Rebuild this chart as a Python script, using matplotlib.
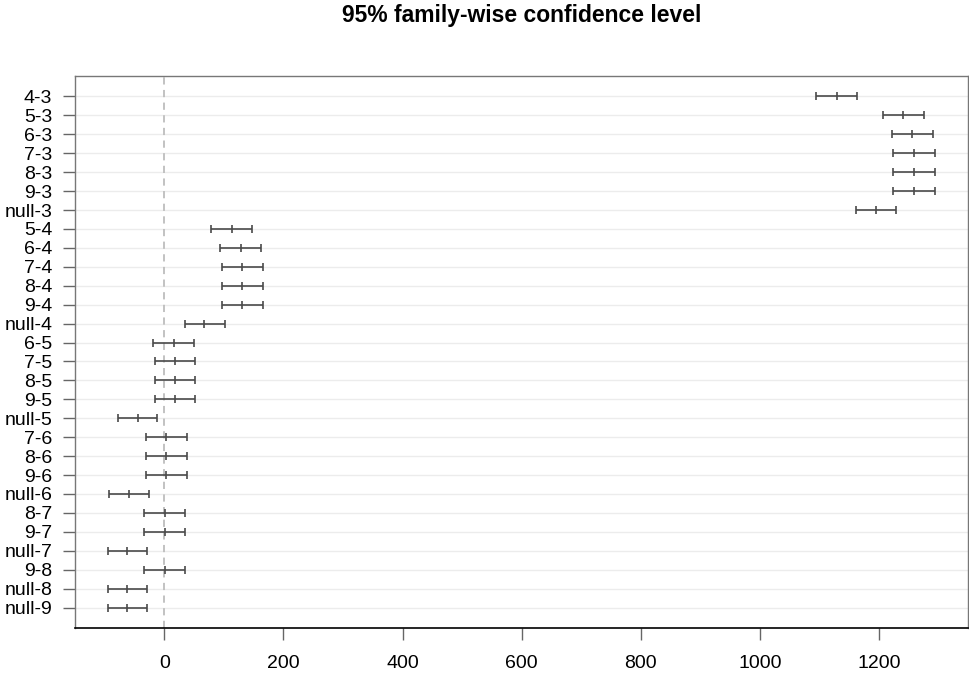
import matplotlib
matplotlib.use("Agg")
import matplotlib.pyplot as plt
import numpy as np

# Tukey HSD pairwise comparisons: difference and 95% family-wise interval
comparisons = ["4-3", "5-3", "6-3", "7-3", "8-3", "9-3", "null-3",
               "5-4", "6-4", "7-4", "8-4", "9-4", "null-4",
               "6-5", "7-5", "8-5", "9-5", "null-5",
               "7-6", "8-6", "9-6", "null-6",
               "8-7", "9-7", "null-7",
               "9-8", "null-8",
               "null-9"]
diff = [1129, 1241, 1256, 1259, 1259, 1259, 1195,
        113, 128, 131, 131, 131, 67,
        16, 18, 18, 18, -45,
        3, 3, 3, -60,
        1, 1, -62,
        1, -62,
        -62]
lwr = [1094, 1207, 1221, 1224, 1224, 1224, 1162,
       79, 94, 97, 97, 97, 34,
       -19, -16, -16, -16, -78,
       -31, -31, -31, -93,
       -34, -34, -95,
       -34, -95,
       -95]
upr = [1163, 1276, 1290, 1294, 1294, 1294, 1228,
       147, 163, 165, 165, 165, 102,
       50, 52, 52, 52, -12,
       38, 38, 38, -26,
       35, 35, -29,
       35, -29,
       -29]
xticks = [0, 200, 400, 600, 800, 1000, 1200]

plt.rcParams["font.family"] = ["Liberation Sans", "DejaVu Sans"]

n = len(comparisons)
ypos = np.arange(n, 0, -1)
diff = np.array(diff)
lwr = np.array(lwr)
upr = np.array(upr)

fig = plt.figure(figsize=(9.69, 6.75), dpi=100)
ax = fig.add_axes([0.0771, 0.0696, 0.922, 0.8178])

# light row guides and the zero reference
for y in ypos:
    ax.axhline(y, color="#ececec", linewidth=1.0, zorder=0)
ax.axvline(0, color="#bdbdbd", linewidth=1.3, linestyle=(0, (4, 3)), zorder=1)

bar_kw = dict(linestyle="none", marker="|", markersize=5.5, mew=1.2,
              color="#4a4a4a", zorder=3)
ax.hlines(ypos, lwr, upr, color="#4a4a4a", linewidth=1.2, zorder=3)
ax.plot(lwr, ypos, **bar_kw)
ax.plot(upr, ypos, **bar_kw)
ax.plot(diff, ypos, **bar_kw)

# R-style 4% padding around the data range
xmin, xmax = lwr.min(), upr.max()
pad = 0.04 * (xmax - xmin)
ax.set_xlim(xmin - pad, xmax + pad)
ypad = 0.04 * (n - 1)
ax.set_ylim(1 - ypad, n + ypad)

ax.set_yticks(ypos)
ax.set_yticklabels(comparisons, fontsize=14)
ax.set_xticks(xticks)
ax.set_xticklabels([str(t) for t in xticks], fontsize=14)
ax.tick_params(axis="y", length=8.6, width=1.0, color="#666666", pad=7.5)
ax.tick_params(axis="x", length=8.6, width=1.0, color="#666666", pad=11)

for side in ["top", "right", "left"]:
    ax.spines[side].set_color("#777777")
    ax.spines[side].set_linewidth(1.0)
ax.spines["bottom"].set_color("black")
ax.spines["bottom"].set_linewidth(1.2)

fig.text(0.5383, 0.977, "95% family-wise confidence level", ha="center",
         va="center", fontsize=16.5, fontweight="bold")

fig.savefig("out.png", dpi=100)
